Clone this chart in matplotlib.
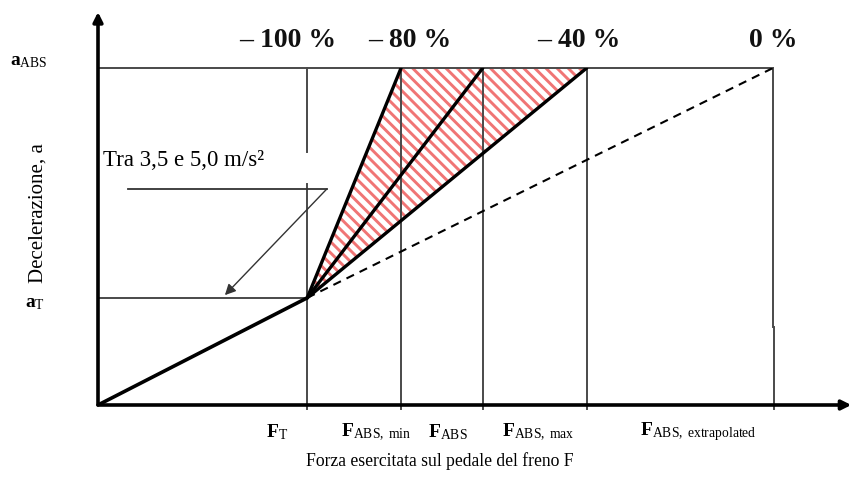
import matplotlib
matplotlib.use("Agg")
import matplotlib.pyplot as plt
from matplotlib.patches import Polygon

plt.rcParams['font.family'] = ['Liberation Serif', 'DejaVu Serif']
plt.rcParams['mathtext.fontset'] = 'custom'
plt.rcParams['mathtext.rm'] = 'Liberation Serif'
plt.rcParams['mathtext.bf'] = 'Liberation Serif:bold'
plt.rcParams['mathtext.it'] = 'Liberation Serif:italic'
plt.rcParams['hatch.linewidth'] = 2.1

# forces (F_ABS,extrapolated = 100) and decelerations (a_ABS = 1)
force_names = ['T', 'ABS, min', 'ABS', 'ABS, max', 'ABS, extrapolated']
force_values = [31.0, 44.9, 57.0, 72.4, 100.0]
a_T = 0.318
a_ABS = 1.0

pct_labels = ['– 100 %', '– 80 %', '– 40 %', '0 %']
pct_x = [28.1, 46.2, 71.3, 100.0]

note_text = 'Tra 3,5 e 5,0 m/s²'

W, H = 851, 492
fig = plt.figure(figsize=(W / 100, H / 100), dpi=100)
# axes box: origin at (98, 405) px, top right at (773, 68) px
ax = fig.add_axes([98 / W, (H - 405) / H, 675 / W, 337 / H])
ax.set_xlim(0, 100)
ax.set_ylim(0, 1)
ax.axis('off')

F_T, F_min, F_abs, F_max, F_ext = force_values
frame = '#4a4a4a'

# hatched band between F_ABS,min and F_ABS,max
band = Polygon([(F_T, a_T), (F_min, a_ABS), (F_max, a_ABS)], closed=True,
               facecolor='none', edgecolor='#f07575', hatch='\\\\\\',
               linewidth=0, zorder=1)
ax.add_patch(band)

# frame lines
ax.plot([0, F_ext], [a_ABS, a_ABS], color=frame, lw=1.4, zorder=2, clip_on=False)
ax.plot([0, F_T], [a_T, a_T], color=frame, lw=1.4, zorder=2, clip_on=False)
ax.plot([F_T, F_T], [-0.012, 0.656], color=frame, lw=1.4, zorder=2, clip_on=False)
ax.plot([F_T, F_T], [0.751, a_ABS], color=frame, lw=1.4, zorder=2, clip_on=False)
for f in [F_min, F_abs, F_max]:
    ax.plot([f, f], [-0.012, a_ABS], color=frame, lw=1.4, zorder=2, clip_on=False)
ax.plot([F_ext, F_ext], [0.231, a_ABS], color=frame, lw=1.4, zorder=2, clip_on=False)
ax.plot([F_ext + 0.15, F_ext + 0.15], [-0.012, 0.231], color=frame, lw=1.4,
        zorder=2, clip_on=False)

# characteristic lines
ax.plot([0, F_T], [0, a_T], color='black', lw=2.6, zorder=4, solid_capstyle='round')
for f in [F_min, F_abs, F_max]:
    ax.plot([F_T, f], [a_T, a_ABS], color='black', lw=2.4, zorder=4,
            solid_capstyle='round')
ax.plot([F_T, F_ext], [a_T, a_ABS], color='black', lw=1.5, ls=(0, (4, 3)), zorder=4)

# axes with arrows
ax.annotate('', xy=(111.6, 0), xytext=(0, 0), annotation_clip=False,
            arrowprops=dict(arrowstyle='-|>', color='black', lw=2.6,
                            mutation_scale=14, shrinkA=0, shrinkB=0), zorder=5)
ax.annotate('', xy=(0, 1.166), xytext=(0, 0), annotation_clip=False,
            arrowprops=dict(arrowstyle='-|>', color='black', lw=2.6,
                            mutation_scale=14, shrinkA=0, shrinkB=0), zorder=5)

# note with leader and arrow
ax.plot([4.44, 33.9], [0.641, 0.641], color='#333333', lw=1.3, zorder=3, clip_on=False)
ax.annotate('', xy=(18.8, 0.326), xytext=(33.9, 0.641),
            arrowprops=dict(arrowstyle='-|>', color='#333333', lw=1.0,
                            mutation_scale=16, shrinkA=0, shrinkB=0), zorder=3)
ax.text(0.74, 0.727, note_text, fontsize=16.5, ha='left', va='center')

# percent labels
for lbl, x in zip(pct_labels, pct_x):
    ax.text(x, 1.083, lbl, fontsize=20, fontweight='bold', ha='center',
            va='center', color='#111111', clip_on=False)

# force tick labels
label_x = [26.5, 41.2, 51.9, 65.2, 88.9]
for name, x in zip(force_names, label_x):
    txt = name.replace(' ', r'\ ')
    ax.text(x, -0.08, r'$\mathbf{F}_{\mathrm{' + txt + '}}$', fontsize=14,
            ha='center', va='center', clip_on=False)

# deceleration labels
ax.text(-7.4, 1.018, r'$\mathbf{a}_{\mathrm{ABS}}$', fontsize=14, ha='right',
        va='center', clip_on=False)
ax.text(-7.8, 0.30, r'$\mathbf{a}_{\mathrm{T}}$', fontsize=14, ha='right',
        va='center', clip_on=False)

fig.text(440 / W, 1 - 461 / H, 'Forza esercitata sul pedale del freno F',
         fontsize=12.7, ha='center', va='center')
fig.text(38 / W, 1 - 213 / H, 'Decelerazione, a', fontsize=15, rotation=90,
         ha='center', va='center')

fig.savefig('out.png', dpi=100)
